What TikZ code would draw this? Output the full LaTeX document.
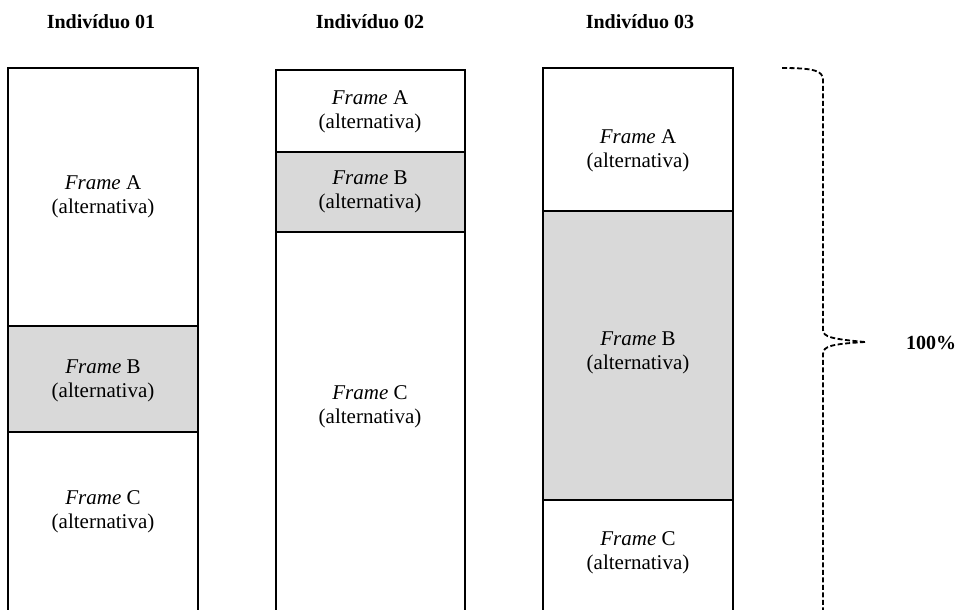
\documentclass[tikz,border=0pt]{standalone}
\usepackage{fontspec}
\setmainfont{Liberation Serif}
\definecolor{boxgray}{HTML}{D9D9D9}
\begin{document}
\begin{tikzpicture}[x=1bp,y=-1bp,
  sec/.style={draw=black, line width=1.3bp},
  secgray/.style={sec, fill=boxgray},
  lbl/.style={align=center, inner sep=0pt, font=\fontsize{21bp}{24bp}\selectfont},
  hdr/.style={inner sep=0pt, anchor=base, font=\bfseries\fontsize{20bp}{24bp}\selectfont},
  bracestyle/.style={draw=black, line width=1.8bp, dash pattern=on 5bp off 2.5bp}]
\useasboundingbox (0,0) rectangle (958,610);
\clip (0,0) rectangle (958,610);
% headers
\node[hdr] (h1) at (101,29) {Indivíduo 01};
\node[hdr] (h2) at (370,29) {Indivíduo 02};
\node[hdr] (h3) at (640,29) {Indivíduo 03};
% column 1
\draw[sec] (8,68) rectangle (198,326);
\draw[secgray] (8,326) rectangle (198,432);
\draw[sec] (8,432) rectangle (198,640);
\node[lbl] (a1) at (103,197) {\textit{Frame} A\\(alternativa)};
\node[lbl] (b1) at (103,381) {\textit{Frame} B\\(alternativa)};
\node[lbl] (c1) at (103,512) {\textit{Frame} C\\(alternativa)};
% column 2
\draw[sec] (276,70) rectangle (465,152);
\draw[secgray] (276,152) rectangle (465,232);
\draw[sec] (276,232) rectangle (465,640);
\node[lbl] (a2) at (370,112) {\textit{Frame} A\\(alternativa)};
\node[lbl] (b2) at (370,192) {\textit{Frame} B\\(alternativa)};
\node[lbl] (c2) at (370,407) {\textit{Frame} C\\(alternativa)};
% column 3
\draw[sec] (543,68) rectangle (733,211);
\draw[secgray] (543,211) rectangle (733,500);
\draw[sec] (543,500) rectangle (733,640);
\node[lbl] (a3) at (638,151) {\textit{Frame} A\\(alternativa)};
\node[lbl] (b3) at (638,353) {\textit{Frame} B\\(alternativa)};
\node[lbl] (c3) at (638,553) {\textit{Frame} C\\(alternativa)};
% brace
\coordinate (btop) at (782,68);
\coordinate (btip) at (865,342);
\coordinate (bbot) at (823,640);
\draw[bracestyle] (btop) .. controls (815,68) and (823,71) .. (823,80) -- (823,330)
  .. controls (823,337) and (832,339) .. (btip);
\draw[bracestyle] (btip) .. controls (832,344) and (823,346) .. (823,354) -- (bbot);
\node[inner sep=0pt, anchor=base west, font=\bfseries\fontsize{20bp}{24bp}\selectfont] (pct) at (906,349) {100\%};
\end{tikzpicture}
\end{document}
